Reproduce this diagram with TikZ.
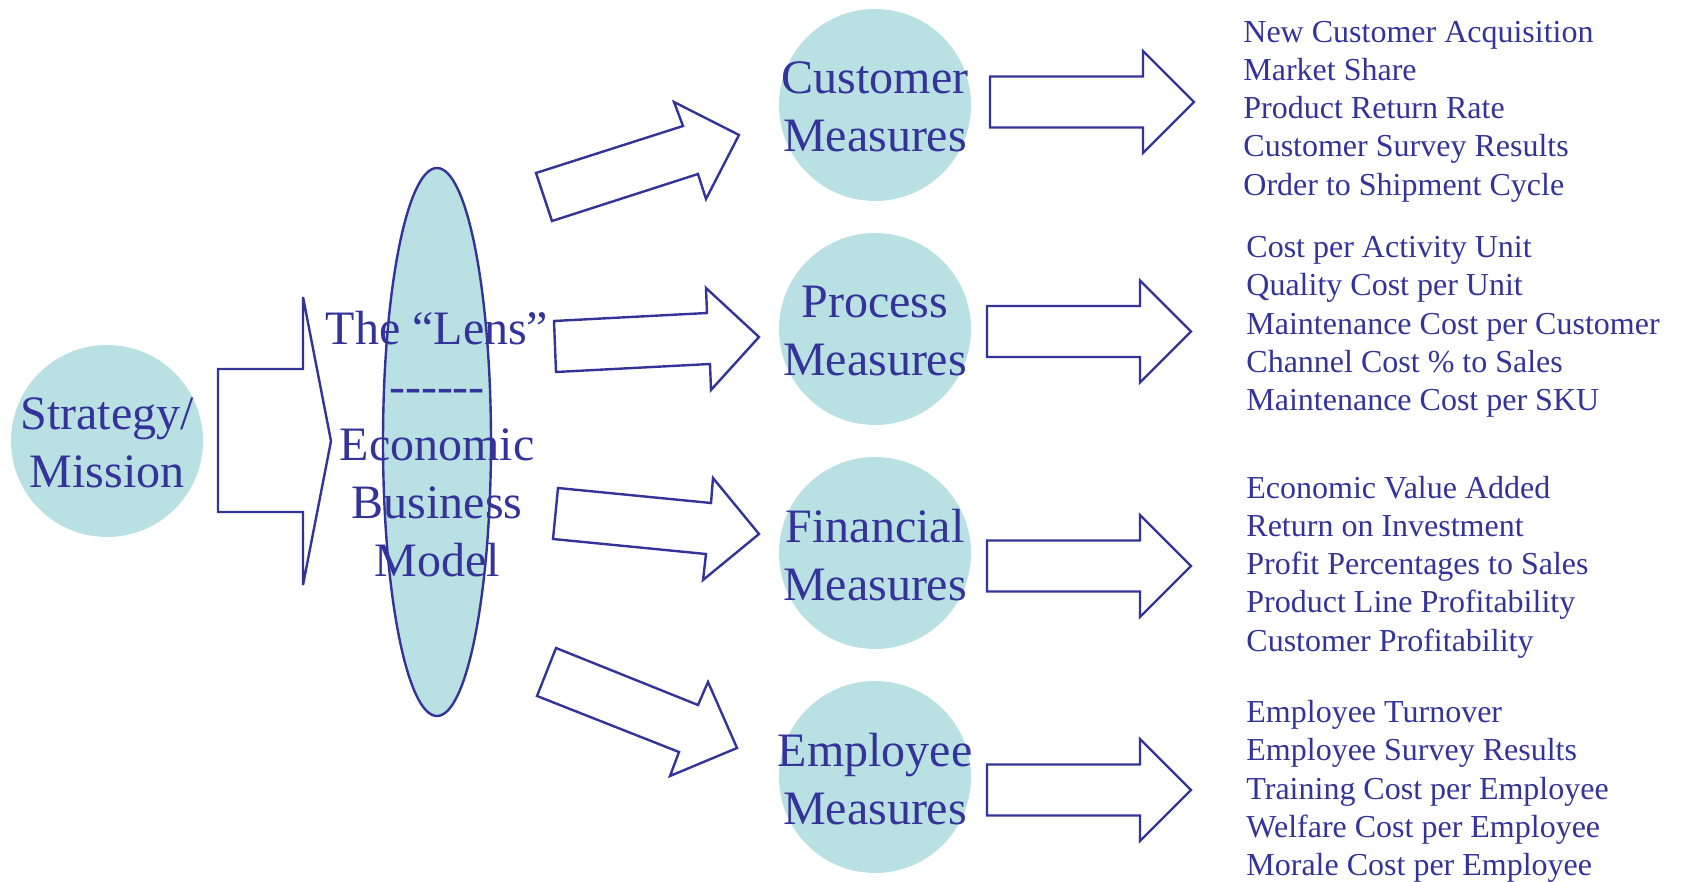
\documentclass[tikz,border=0pt]{standalone}
\usepackage{fontspec}
\setmainfont{Liberation Serif}
\usetikzlibrary{shapes.geometric}
\definecolor{navy}{RGB}{51,51,153}
\definecolor{lensteal}{RGB}{185,224,227}
\begin{document}
\begin{tikzpicture}[x=0.5pt,y=-0.5pt,
  bubble/.style={circle, fill=lensteal, minimum size=96pt, inner sep=0pt},
  bigtext/.style={text=navy, align=center, inner sep=0pt, font=\fontsize{24}{28.9}\selectfont},
  listtext/.style={text=navy, align=left, anchor=west, inner sep=0pt, font=\fontsize{16}{19.15}\selectfont},
  blockarrow/.style={draw=navy, line width=1.2pt, line join=miter},
  rarrow/.pic={\draw[blockarrow] (0,-25.5) -- (153,-25.5) -- (153,-51) -- (204,0) -- (153,51) -- (153,25.5) -- (0,25.5) -- cycle;}]
\useasboundingbox (0,0) rectangle (1681,882);

% shapes
\node[bubble] (strat) at (107,441) {};
\node[ellipse, draw=navy, fill=lensteal, line width=1.2pt, minimum width=54pt, minimum height=274pt, inner sep=0pt] (lens) at (437,442) {};
\node[bubble] (cust) at (875,105) {};
\node[bubble] (proc) at (875,329) {};
\node[bubble] (fin)  at (875,553) {};
\node[bubble] (emp)  at (875,777) {};

% big arrow from the strategy into the lens
\draw[blockarrow] (218,369) -- (303,369) -- (303,297) -- (331,441) -- (303,585) -- (303,512) -- (218,512) -- cycle;

% arrows from the lens to the four measures
\draw[blockarrow] (536,173) -- (683,126) -- (674,102) -- (739,135) -- (706,199) -- (698,174) -- (552,221) -- cycle;
\draw[blockarrow] (554,321) -- (707,313) -- (706,288) -- (759,337) -- (711,390) -- (710,364) -- (556,372) -- cycle;
\draw[blockarrow] (558,488) -- (711,503) -- (713,478) -- (759,534) -- (703,580) -- (706,554) -- (553,539) -- cycle;
\draw[blockarrow] (556,648) -- (698,705) -- (708,682) -- (737,748) -- (670,776) -- (679,752) -- (537,696) -- cycle;

% arrows from the measures to their indicator lists
\pic at (990,102) {rarrow};
\pic at (987,331.5) {rarrow};
\pic at (987,566) {rarrow};
\pic at (987,790) {rarrow};

% labels
\node[bigtext] (strattext) at (107,443) {Strategy/\\Mission};
\node[bigtext] (lenstext) at (437,444) {The “Lens”\\-{}-{}-{}-{}-{}-\\Economic\\Business\\Model};
\node[bigtext] (custtext) at (875,107) {Customer\\Measures};
\node[bigtext] (proctext) at (875,331) {Process\\Measures};
\node[bigtext] (fintext)  at (875,555) {Financial\\Measures};
\node[bigtext] (emptext)  at (875,779) {Employee\\Measures};

% indicator lists
\node[listtext] (custlist) at (1243,111.5) {New Customer Acquisition\\Market Share\\Product Return Rate\\Customer Survey Results\\Order to Shipment Cycle};
\node[listtext] (proclist) at (1246,327) {Cost per Activity Unit\\Quality Cost per Unit\\Maintenance Cost per Customer\\Channel Cost \% to Sales\\Maintenance Cost per SKU};
\node[listtext] (finlist) at (1246,567) {Economic Value Added\\Return on Investment\\Profit Percentages to Sales\\Product Line Profitability\\Customer Profitability};
\node[listtext] (emplist) at (1246,791.5) {Employee Turnover\\Employee Survey Results\\Training Cost per Employee\\Welfare Cost per Employee\\Morale Cost per Employee};
\end{tikzpicture}
\end{document}
